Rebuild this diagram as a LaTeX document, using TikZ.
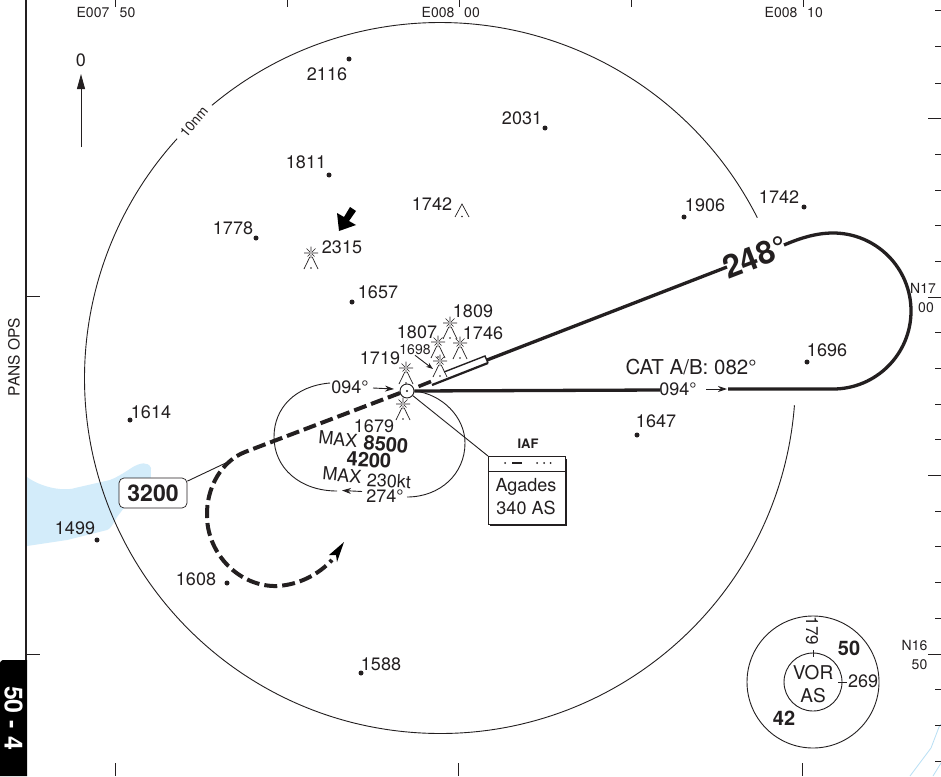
\documentclass[tikz,border=0pt]{standalone}
\usepackage{fontspec}
\setmainfont{TeX Gyre Heros}
\usetikzlibrary{arrows.meta}
\definecolor{ink}{HTML}{231F20}
\definecolor{water}{HTML}{D3ECFA}
\definecolor{coast}{HTML}{B8DFF5}
\newcommand{\fs}[1]{\fontsize{#1}{#1}\selectfont}
\tikzset{
  x=1pt,y=-1pt,
  lbl/.style={inner sep=0pt,text=ink,font=\fs{18}},
  sm/.style={inner sep=0pt,text=ink,font=\fs{14}},
  bld/.style={inner sep=0pt,text=ink,font=\fs{20}\bfseries},
  spot/.style={circle,fill=ink,inner sep=0pt,minimum size=5pt},
  thin line/.style={draw=ink,line width=0.9pt},
  thick line/.style={draw=ink,line width=3.3pt},
  dash line/.style={draw=ink,line width=4pt,dash pattern=on 13pt off 5pt},
  small arrow/.style={draw=ink,line width=0.9pt,-{Stealth[length=9pt,width=6pt]}},
  tick/.style={draw=ink,line width=1pt},
  obst/.pic={
    \draw[ink,line width=0.65pt] (-7,0)--(7,0) (0,-6.5)--(0,-1.5) (0,1.5)--(0,5) (-4.5,-4.5)--(-1.2,-1.2) (1.2,-1.2)--(4.5,-4.5) (-3.5,3.5)--(-1.2,1.2) (1.2,1.2)--(3.5,3.5);
    \draw[ink,line width=0.7pt] (-7,16)--(-1.2,4) (7,16)--(1.2,4);
    \fill[ink] (0,15) circle (0.9pt);
  },
  plainobst/.pic={
    \draw[ink,line width=0.7pt] (-7,13)--(0,0)--(7,13);
    \fill[ink] (0,12.5) circle (0.9pt);
  },
}
\begin{document}
\begin{tikzpicture}
\useasboundingbox (0,0) rectangle (941,776);
\fill[white] (0,0) rectangle (941,776);
% water
\fill[water] (27,477) .. controls (35,483) and (48,488) .. (60,489) .. controls (68,489.5) and (72,489) .. (75,488) -- (110,480) .. controls (120,476) and (128,470) .. (133,467) .. controls (140,463) and (148,461) .. (151,468) .. controls (151,473) and (151,478) .. (150,483) .. controls (144,490) and (135,495) .. (130,500) -- (117,517) .. controls (112,526) and (110,529) .. (107,530) -- (67,540) -- (27,546) -- cycle;
% coast
\draw[coast,line width=0.8pt] (910,776) -- (931,748) -- (939,727) -- (941,724);
\draw[coast,line width=0.8pt] (933,776) -- (941,763);
% frame
\draw[ink,line width=2.6pt] (26,0) -- (26,660);
\fill[black] (0,776) -- (0,665) .. controls (0,661) and (1,660) .. (5,660) -- (27,660) -- (27,776) -- cycle;
\node[inner sep=0pt,text=ink,font=\fs{15.5},rotate=90] (panstxt) at (14,357) {PANS OPS};
\node[inner sep=0pt,rotate=-90,text=white,font=\fs{25}\bfseries] (tabtxt) at (13.5,718) {50 - 4};
% ticks
\foreach \tx in {115,287,459,631,803} \draw[tick] (\tx,0) -- (\tx,7);
\foreach \tx in {115,458,802} \draw[tick] (\tx,763) -- (\tx,776);
\draw[tick] (27,296.5) -- (40,296.5);
\draw[tick] (27,654) -- (40,654);
\foreach \ty in {11,47,83,154,190,225.5,261.2,332.7,368.4,404.1,439.8,511.2,546.9,582.6,618.3,689.7,725.4,761.1}
  \draw[tick] (935,\ty) -- (941,\ty);
\draw[tick] (928,118.5) -- (941,118.5);
\draw[tick] (928,297) -- (941,297);
\draw[tick] (928,475.5) -- (941,475.5);
\draw[tick] (928,654) -- (941,654);
% graticule labels
\node[sm] (e1) at (93,13) {E007};
\node[sm] (e1m) at (127.5,13) {50};
\node[sm] (e2) at (438,13) {E008};
\node[sm] (e2m) at (472,13) {00};
\node[sm] (e3) at (781,13) {E008};
\node[sm] (e3m) at (815,13) {10};
\node[sm] (n1) at (923,288) {N17};
\node[sm] (n1m) at (926,308) {00};
\node[sm] (n2) at (914.5,645) {N16};
\node[sm] (n2m) at (919.5,665) {50};
% north arrow
\node[lbl] (north) at (81,60) {0};
\coordinate (nb) at (81,147);
\coordinate (nt) at (81,74);
\draw[draw=ink,line width=0.9pt,-{Triangle[length=15pt,width=8pt]}] (nb) -- (nt);
% 10 nm circle
\coordinate (dme) at (440,378);
\draw[thin line] (dme) ++(4.4:355.5) arc[start angle=4.4,end angle=222.3,radius=355.5];
\draw[thin line] (dme) ++(230.1:355.5) arc[start angle=230.1,end angle=333.2,radius=355.5];
\node[inner sep=0pt,text=ink,font=\fs{14},rotate=50] (nm) at (194,122) {10nm};
% spot heights
\node[spot] (s2116) at (349,59) {}; \node[lbl] (t2116) at (327,74) {2116};
\node[spot] (s2031) at (545,128) {}; \node[lbl] (t2031) at (522,118) {2031};
\node[spot] (s1811) at (329,175) {}; \node[lbl] (t1811) at (306,162) {1811};
\node[spot] (s1906) at (684,217) {}; \node[lbl] (t1906) at (705,205) {1906};
\node[spot] (s1742) at (804,207) {}; \node[lbl] (t1742) at (779,197) {1742};
\node[spot] (s1778) at (256,238) {}; \node[lbl] (t1778) at (233,228) {1778};
\node[spot] (s1657) at (352,302) {}; \node[lbl] (t1657) at (378,292) {1657};
\node[spot] (s1696) at (807,362) {}; \node[lbl] (t1696) at (827,350) {1696};
\node[spot] (s1647) at (637,435) {}; \node[lbl] (t1647) at (656,421) {1647};
\node[spot] (s1614) at (130,420) {}; \node[lbl] (t1614) at (151,412) {1614};
\node[spot] (s1499) at (97,540) {}; \node[lbl] (t1499) at (75,528) {1499};
\node[spot] (s1608) at (227,583) {}; \node[lbl] (t1608) at (196,579) {1608};
\node[spot] (s1588) at (361,673) {}; \node[lbl] (t1588) at (381,664) {1588};
% obstacles
\node[lbl] (t1742b) at (432,204) {1742};
\pic at (462,204) {plainobst};
\pic at (311,253) {obst};
\node[lbl] (t2315) at (342,247) {2315};
\pic at (450,323) {obst};
\pic at (438,342) {obst};
\pic at (460,343) {obst};
\pic at (440,361) {obst};
\pic at (406,368) {obst};
\pic at (403,404) {obst};
\node[lbl] (t1809) at (473,311) {1809};
\node[lbl] (t1807) at (417,332) {1807};
\node[lbl] (t1746) at (483,333) {1746};
\node[lbl] (t1719) at (380,358) {1719};
\node[sm] (t1698) at (415,350) {1698};
\node[lbl] (t1679) at (374,426) {1679};
\coordinate (tip1698) at (433,369);
\draw[draw=ink,line width=0.9pt,-{Stealth[length=7pt,width=5pt]}] (t1698.south) -- (tip1698);
% black arrow
\fill[black] (350,207) -- (356,211) -- (349,221) -- (356,225) -- (339,231) -- (337,213) -- (344,217) -- cycle;
% holding pattern
\node[draw=ink,circle,fill=white,line width=0.9pt,minimum size=14pt,inner sep=0pt] (vor) at (407,391) {};
\draw[thin line] (330,383) .. controls (295,386) and (274,408) .. (274,437) .. controls (274,468) and (300,491) .. (337,491);
\draw[thin line] (407,497) .. controls (440,497) and (465,474) .. (465,443) .. controls (465,417) and (442,394) .. (vor.east);
\node[lbl] (t094a) at (350,387) {094°};
\draw[small arrow] (373,388) -- (394,389);
\node[lbl] (t274) at (385,496) {274°};
\draw[small arrow] (362,491.5) -- (342,490.5);
\node[lbl,rotate=-5] (maxa) at (338,439) {MAX};
\node[bld,rotate=-5] (t8500) at (386,444) {8500};
\node[bld,rotate=-3] (t4200) at (369,460) {4200};
\node[lbl,rotate=-5] (maxb) at (342,475) {MAX};
\node[lbl,rotate=-3] (t230) at (389,481) {230kt};
% approach
\coordinate (rwend) at (487,360);
\coordinate (rwa) at (444,372);
\coordinate (rwb) at (485,356);
\coordinate (rwc) at (488,363);
\coordinate (rwd) at (432,385);
\draw[draw=ink,line width=1.4pt] (rwa) -- (rwb) -- (rwc);
\draw[draw=ink,line width=2.2pt] (rwc) -- (rwd);
\draw[thick line] (rwend) -- (727,267);
\draw[thick line] (784,245) .. controls (798,239) and (815,233) .. (833,233) arc[start angle=-90,end angle=90,radius=78] -- (728,389);
\node[bld,font=\fs{32}\bfseries,rotate=21] (t248) at (755,257) {248°};
\draw[thick line] (vor.east) -- (660,390);
\node[inner sep=0pt,text=ink,font=\fs{20.5}] (tcat) at (691,367) {CAT A/B: 082°};
\node[lbl] (t094b) at (678,389) {094°};
\draw[small arrow] (706,389) -- (727,389);
% final dashes
\draw[draw=ink,line width=3.6pt] (418.5,386.5) -- (431,381.5);
\draw[dash line] (400,393) -- (245,452) .. controls (222,461) and (206,487) .. (207,517) .. controls (208,555) and (240,587) .. (277,586) .. controls (298,585) and (318,575) .. (332,560);
\fill[black] (344,542) -- (337,562) -- (336,555) -- (329,555) -- cycle;
% VOR centre
\fill[ink] (vor) circle (1.2pt);
% altitude box
\node[draw=ink,fill=white,rounded corners=5pt,line width=0.7pt,minimum width=68pt,minimum height=30pt,inner sep=0pt,text=ink,font=\fs{23}\bfseries] (alt) at (153,493) {3200};
\coordinate (altl) at (232,460);
\draw[thin line] (alt.north east) ++(0,3.5) -- (altl);
% IAF box
\node[inner sep=0pt,text=ink,font=\fs{13}\bfseries] (iaf) at (528,444) {IAF};
\draw[thin line] (vor) -- (488,456);
\fill[ink] (490,459) rectangle (566.5,526);
\fill[white,draw=ink,line width=0.8pt] (488,456) rectangle (565,524);
\draw[draw=ink,line width=0.8pt] (488,471) -- (565,471);
\fill[ink] (505,463) circle (1pt) (537,463) circle (1pt) (544,463) circle (1pt) (550.5,463) circle (1pt);
\draw[draw=ink,line width=1.2pt] (512,463) -- (522,463);
\node[inner sep=0pt,text=ink,font=\fs{18}] (agades) at (526,487) {Agades};
\node[inner sep=0pt,text=ink,font=\fs{18}] (t340) at (526,508) {340 AS};
% MSA
\node[draw=ink,circle,line width=0.9pt,minimum size=132pt,inner sep=0pt] (msao) at (813,682) {};
\node[draw=ink,circle,line width=0.9pt,minimum size=58pt,inner sep=0pt] (msai) at (813,682) {};
\draw[draw=ink,line width=0.8pt] (813,650) -- (813,657);
\draw[draw=ink,line width=0.8pt] (838,682) -- (847,682);
\node[inner sep=0pt,text=ink,font=\fs{19}] (vortxt) at (813,673) {VOR};
\node[inner sep=0pt,text=ink,font=\fs{19}] (astxt) at (813,696) {AS};
\node[inner sep=0pt,text=ink,font=\fs{17},rotate=-90] (t179) at (812,631) {179};
\node[lbl] (t269) at (863,681) {269};
\node[bld] (t50) at (849,648) {50};
\node[bld] (t42) at (784,718) {42};
\end{tikzpicture}
\end{document}
